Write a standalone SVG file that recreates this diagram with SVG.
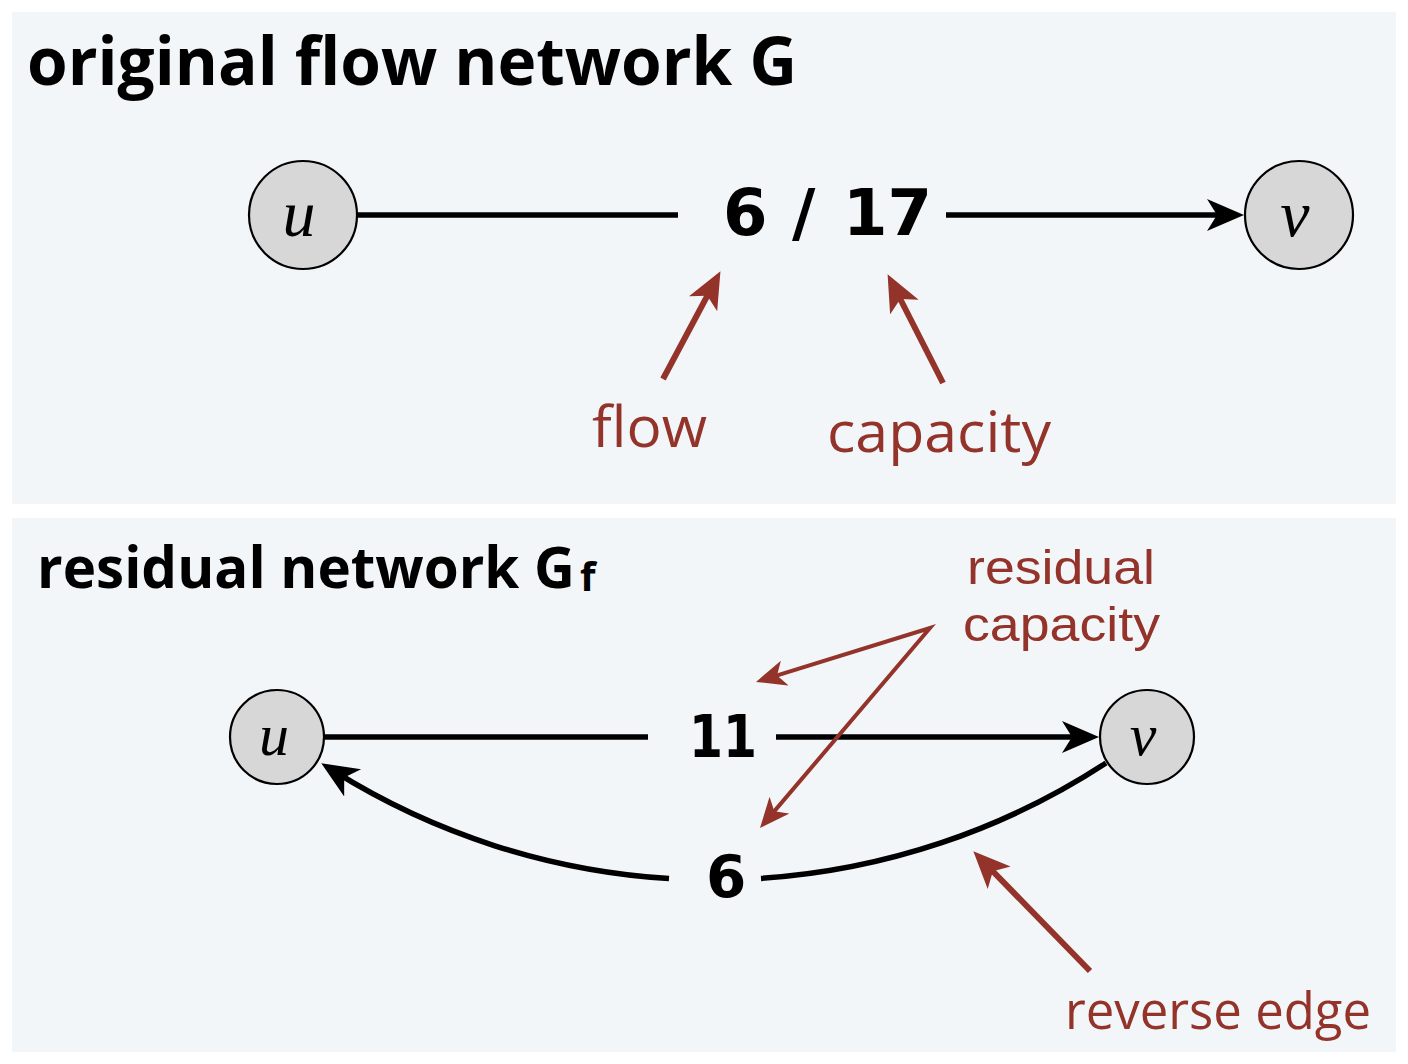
<svg xmlns="http://www.w3.org/2000/svg" width="1408" height="1064" viewBox="0 0 1408 1064">
<style>
.panel{fill:#f2f6f9}
.title{font-family:"Open Sans","Liberation Sans",sans-serif;font-weight:bold;fill:#000}
.note{font-family:"Open Sans","Liberation Sans",sans-serif;fill:#93332a}
.note2{font-family:"Liberation Sans","Open Sans",sans-serif;fill:#93332a}
.num{font-family:"DejaVu Sans","Liberation Sans",sans-serif;font-weight:bold;fill:#000}
.node circle{fill:#d7d7d7;stroke:#000;stroke-width:2.2}
.node text{font-family:"Liberation Serif","Times New Roman",serif;font-style:italic;fill:#000;text-anchor:middle}
.edge{fill:none;stroke:#000;stroke-width:5.5}
.red{fill:none;stroke:#93332a;stroke-width:6}
.redthin{fill:none;stroke:#93332a;stroke-width:4;stroke-linejoin:miter}
</style>
<defs>
<marker id="ahBlack" markerUnits="userSpaceOnUse" markerWidth="44" markerHeight="44" refX="22" refY="17" orient="auto">
<path d="M0,1 L37,17 L0,33 L10,17 z" fill="#000"/>
</marker>
<marker id="ahRed" markerUnits="userSpaceOnUse" markerWidth="44" markerHeight="44" refX="22" refY="16" orient="auto">
<path d="M0,0 L37,16 L0,32 L9,16 z" fill="#93332a"/>
</marker>
<marker id="ahRedS" markerUnits="userSpaceOnUse" markerWidth="36" markerHeight="36" refX="18" refY="13" orient="auto-start-reverse">
<path d="M0,0 L30,13 L0,26 L8,13 z" fill="#93332a"/>
</marker>
</defs>

<rect class="panel" x="12" y="12" width="1384" height="492"/>
<rect class="panel" x="12" y="518" width="1384" height="534"/>

<text class="title" x="27" y="85" font-size="66" textLength="770" lengthAdjust="spacingAndGlyphs">original flow network G</text>
<text class="title" x="37" y="588" font-size="57"><tspan textLength="538" lengthAdjust="spacingAndGlyphs">residual network G</tspan><tspan x="580" y="591" font-size="40">f</tspan></text>

<g id="connectors">
<line class="edge" x1="358" y1="215" x2="678" y2="215"/>
<line class="edge" x1="946" y1="215" x2="1229" y2="215" marker-end="url(#ahBlack)"/>
<text class="num" y="235" font-size="64"><tspan x="723">6</tspan> <tspan x="792">/</tspan> <tspan x="843">17</tspan></text>

<line class="edge" x1="325" y1="737" x2="648" y2="737"/>
<line class="edge" x1="776" y1="737" x2="1084" y2="737" marker-end="url(#ahBlack)"/>
<text class="num" x="689" y="757" font-size="58" textLength="68" lengthAdjust="spacingAndGlyphs">11</text>

<path class="edge" d="M1106,763 A717,717 0 0 1 761,878.4"/>
<path class="edge" d="M669,878.6 A717,717 0 0 1 334,771.2" marker-end="url(#ahBlack)"/>
<text class="num" x="706" y="897" font-size="58">6</text>
</g>

<g id="annotations">
<line class="red" x1="663" y1="379" x2="713.4" y2="284.4" marker-end="url(#ahRed)"/>
<line class="red" x1="943" y1="383" x2="894.4" y2="287.5" marker-end="url(#ahRed)"/>
<text class="note" x="592" y="447" font-size="57" textLength="115" lengthAdjust="spacingAndGlyphs">flow</text>
<text class="note" x="827" y="452" font-size="57" textLength="224" lengthAdjust="spacingAndGlyphs">capacity</text>

<path class="redthin" d="M767.5,678.4 L930,628 L767.8,818.9" marker-start="url(#ahRedS)" marker-end="url(#ahRedS)"/>
<text class="note2" x="967" y="584" font-size="49" textLength="188" lengthAdjust="spacingAndGlyphs">residual</text>
<text class="note2" x="963" y="641" font-size="49" textLength="197" lengthAdjust="spacingAndGlyphs">capacity</text>

<line class="red" x1="1090" y1="971" x2="983.8" y2="862" marker-end="url(#ahRed)"/>
<text class="note" x="1065" y="1029" font-size="51" textLength="306" lengthAdjust="spacingAndGlyphs">reverse edge</text>
</g>

<g id="node-u-top" class="node">
<circle cx="303" cy="215" r="54"/>
<text x="299" y="236" font-size="66">u</text>
</g>
<g id="node-v-top" class="node">
<circle cx="1299" cy="215" r="54"/>
<text x="1295" y="236" font-size="66">v</text>
</g>
<g id="node-u-bottom" class="node">
<circle cx="277" cy="737" r="47"/>
<text x="274" y="755" font-size="60">u</text>
</g>
<g id="node-v-bottom" class="node">
<circle cx="1147" cy="737" r="47"/>
<text x="1143" y="755" font-size="60">v</text>
</g>
</svg>
